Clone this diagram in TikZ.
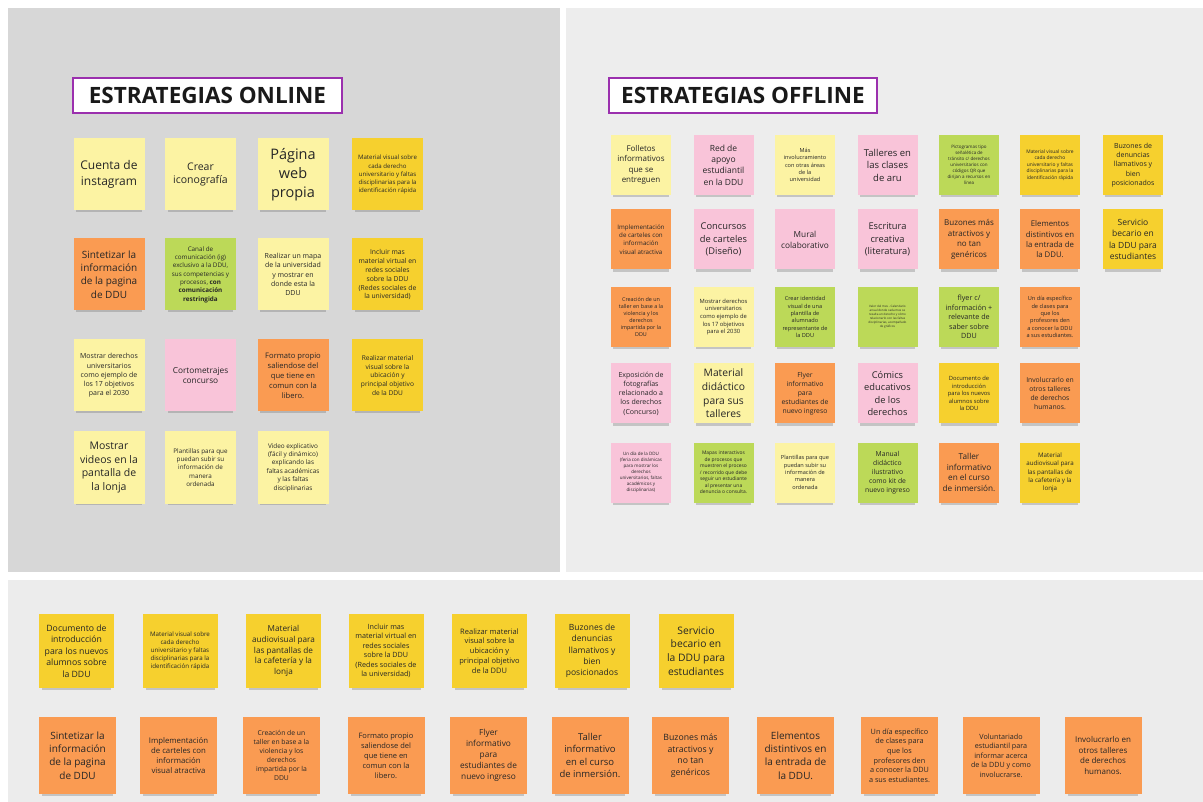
\documentclass[tikz,border=0pt]{standalone}
\usepackage{fontspec}
\setmainfont{Open Sans}
\usetikzlibrary{shadows}

\definecolor{paleyel}{HTML}{FCF3A3}
\definecolor{goldyel}{HTML}{F6D02E}
\definecolor{notorange}{HTML}{FA9B52}
\definecolor{notpink}{HTML}{F9C4D9}
\definecolor{notgreen}{HTML}{BCD958}
\definecolor{titleline}{HTML}{9B30AE}
\definecolor{onlinebg}{HTML}{D7D7D7}
\definecolor{offlinebg}{HTML}{EDEDED}
\definecolor{mixbg}{HTML}{ECECEC}

\newcommand\notefont[1]{\fontsize{#1}{\fpeval{1.32*#1}}\selectfont}

\tikzstyle{every node}=[inner sep=0pt,align=center,text=black!85]
\tikzstyle{note}=[drop shadow={shadow xshift=0pt,shadow yshift=-5pt,shadow scale=.92,opacity=.3,fill=black!60}]
\tikzstyle{titlebox}=[draw=titleline,line width=2pt,fill=white,minimum height=35pt,font=\bfseries\fontsize{22.5}{26}\selectfont,text=black!90]
\tikzset{
  fs/.style={font=\notefont{#1}},
  onsq/.style={note,minimum width=71pt,minimum height=72pt},
  offsq/.style={note,minimum width=60pt,minimum height=60pt},
  upsq/.style={note,minimum width=75pt,minimum height=74pt},
  lowsq/.style={note,minimum width=77pt,minimum height=77pt}
}

\begin{document}
\begin{tikzpicture}[x=1pt,y=-1pt]
  \useasboundingbox (0,0) rectangle (1203,802);
  \fill[onlinebg] (8,8) rectangle (560,572);
  \fill[offlinebg] (566,8) rectangle (1203,572);
  \fill[mixbg] (8,580) rectangle (1203,802);

  \node[titlebox,minimum width=269pt] (online) at (207.5,95.5) {ESTRATEGIAS ONLINE};
  \node[titlebox,minimum width=268pt] (offline) at (743,95.5) {ESTRATEGIAS OFFLINE};

  \node[onsq,fill=paleyel,fs=12] (on1) at (109,174.5) {Cuenta de\\instagram};
  \node[onsq,fill=paleyel,fs=10.5] (on2) at (200.5,174.5) {Crear\\iconografía};
  \node[onsq,fill=paleyel,fs=14.5] (on3) at (293,174.5) {Página\\web\\propia};
  \node[onsq,fill=goldyel,fs=6.1] (on4) at (387.5,174.5) {Material visual sobre\\cada derecho\\universitario y faltas\\disciplinarias para la\\identificación rápida};
  \node[onsq,fill=notorange,fs=10] (on5) at (109,274.5) {Sintetizar la\\información\\de la pagina\\de DDU};
  \node[onsq,fill=notgreen,fs=6.3] (on6) at (200.5,274.5) {Canal de\\comunicación (ig)\\exclusivo a la DDU,\\sus competencias y\\procesos, \textbf{con}\\\textbf{comunicación}\\\textbf{restringida}};
  \node[onsq,fill=paleyel,fs=7] (on7) at (293,274.5) {Realizar un mapa\\de la universidad\\y mostrar en\\donde esta la\\DDU};
  \node[onsq,fill=goldyel,fs=6.8] (on8) at (387.5,274.5) {Incluir mas\\material virtual en\\redes sociales\\sobre la DDU\\(Redes sociales de\\la universidad)};
  \node[onsq,fill=paleyel,fs=7] (on9) at (109,375.5) {Mostrar derechos\\universitarios\\como ejemplo de\\los 17 objetivos\\para el 2030};
  \node[onsq,fill=notpink,fs=8.3] (on10) at (200.5,375.5) {Cortometrajes\\concurso};
  \node[onsq,fill=notorange,fs=7.6] (on11) at (293,375.5) {Formato propio\\saliendose del\\que tiene en\\comun con la\\libero.};
  \node[onsq,fill=goldyel,fs=6.6] (on12) at (387.5,375.5) {Realizar material\\visual sobre la\\ubicación y\\principal objetivo\\de la DDU};
  \node[onsq,fill=paleyel,fs=10.5] (on13) at (109,467.5) {Mostrar\\videos en la\\pantalla de\\la lonja};
  \node[onsq,fill=paleyel,fs=6.3] (on14) at (200.5,467.5) {Plantillas para que\\puedan subir su\\información de\\manera\\ordenada};
  \node[onsq,fill=paleyel,fs=6.4] (on15) at (293,467.5) {Video explicativo\\(fácil y dinámico)\\explicando las\\faltas académicas\\y las faltas\\disciplinarias};

  \node[offsq,fill=paleyel,fs=8] (off1) at (641,165) {Folletos\\informativos\\que se\\entreguen};
  \node[offsq,fill=notpink,fs=8.5] (off2) at (723.5,165) {Red de\\apoyo\\estudiantil\\en la DDU};
  \node[offsq,fill=paleyel,fs=5.6] (off3) at (805,165) {Más\\involucramiento\\con otras áreas\\de la\\universidad};
  \node[offsq,fill=notpink,fs=9.5] (off4) at (887.5,165) {Talleres en\\las clases\\de aru};
  \node[offsq,fill=notgreen,fs=4.5] (off5) at (969,165) {Pictogramas tipo\\señalética de\\tránsito c/ derechos\\universitarios con\\códigos QR que\\dirijan a recursos en\\línea};
  \node[offsq,fill=goldyel,fs=4.9] (off6) at (1050,165) {Material visual sobre\\cada derecho\\universitario y faltas\\disciplinarias para la\\identificación rápida};
  \node[offsq,fill=goldyel,fs=7] (off7) at (1133,165) {Buzones de\\denuncias\\llamativos y\\bien\\posicionados};
  \node[offsq,fill=notorange,fs=6.2] (off8) at (641,239.5) {Implementación\\de carteles con\\información\\visual atractiva};
  \node[offsq,fill=notpink,fs=9.3] (off9) at (723.5,239.5) {Concursos\\de carteles\\(Diseño)};
  \node[offsq,fill=notpink,fs=8.3] (off10) at (805,239.5) {Mural\\colaborativo};
  \node[offsq,fill=notpink,fs=9.3] (off11) at (887.5,239.5) {Escritura\\creativa\\(literatura)};
  \node[offsq,fill=notorange,fs=8] (off12) at (969,239.5) {Buzones más\\atractivos y\\no tan\\genéricos};
  \node[offsq,fill=notorange,fs=7.8] (off13) at (1050,239.5) {Elementos\\distintivos en\\la entrada de\\la DDU.};
  \node[offsq,fill=goldyel,fs=8.5] (off14) at (1133,239.5) {Servicio\\becario en\\la DDU para\\estudiantes};
  \node[offsq,fill=notorange,fs=5.4] (off15) at (641,317) {Creación de un\\taller en base a la\\violencia y los\\derechos\\impartida por la\\DDU};
  \node[offsq,fill=paleyel,fs=5.8] (off16) at (723.5,317) {Mostrar derechos\\universitarios\\como ejemplo de\\los 17 objetivos\\para el 2030};
  \node[offsq,fill=notgreen,fs=5.6] (off17) at (805,317) {Crear identidad\\visual de una\\plantilla de\\alumnado\\representante de\\la DDU};
  \node[offsq,fill=notgreen,fs=3] (off18) at (887.5,317) {Valor del mes - Calendario\\anual donde cada mes se\\resalta un derecho y cómo\\relacionarlo con las faltas\\disciplinarias, acompañado\\de gráficos};
  \node[offsq,fill=notgreen,fs=7.2] (off19) at (969,317) {flyer c/\\información +\\relevante de\\saber sobre\\DDU};
  \node[offsq,fill=notorange,fs=5.6] (off20) at (1050,317) {Un día específico\\de clases para\\que los\\profesores den\\a conocer la DDU\\a sus estudiantes.};
  \node[offsq,fill=notpink,fs=7] (off21) at (641,393.5) {Exposición de\\fotografías\\relacionado a\\los derechos\\(Concurso)};
  \node[offsq,fill=paleyel,fs=10.3] (off22) at (723.5,393.5) {Material\\didáctico\\para sus\\talleres};
  \node[offsq,fill=notorange,fs=6.8] (off23) at (805,393.5) {Flyer\\informativo\\para\\estudiantes de\\nuevo ingreso};
  \node[offsq,fill=notpink,fs=9.3] (off24) at (887.5,393.5) {Cómics\\educativos\\de los\\derechos};
  \node[offsq,fill=goldyel,fs=5.8] (off25) at (969,393.5) {Documento de\\introducción\\para los nuevos\\alumnos sobre\\la DDU};
  \node[offsq,fill=notorange,fs=6.8] (off26) at (1050,393.5) {Involucrarlo en\\otros talleres\\de derechos\\humanos.};
  \node[offsq,fill=notpink,fs=4.5] (off27) at (641,472.5) {Un día de la DDU\\(feria con dinámicas\\para mostrar los\\derechos\\universitarios, faltas\\académicos y\\disciplinarias)};
  \node[offsq,fill=notgreen,fs=4.9] (off28) at (723.5,472.5) {Mapas interactivos\\de procesos que\\muestren el proceso\\/ recorrido que debe\\seguir un estudiante\\al presentar una\\denuncia o consulta.};
  \node[offsq,fill=paleyel,fs=5.6] (off29) at (805,472.5) {Plantillas para que\\puedan subir su\\información de\\manera\\ordenada};
  \node[offsq,fill=notgreen,fs=6.8] (off30) at (887.5,472.5) {Manual\\didáctico\\ilustrativo\\como kit de\\nuevo ingreso};
  \node[offsq,fill=notorange,fs=8.2] (off31) at (969,472.5) {Taller\\informativo\\en el curso\\de inmersión.};
  \node[offsq,fill=goldyel,fs=6.2] (off32) at (1050,472.5) {Material\\audiovisual para\\las pantallas de\\la cafetería y la\\lonja};

  \node[upsq,fill=goldyel,fs=8.7] (up1) at (76.5,651) {Documento de\\introducción\\para los nuevos\\alumnos sobre\\la DDU};
  \node[upsq,fill=goldyel,fs=6.2] (up2) at (180,651) {Material visual sobre\\cada derecho\\universitario y faltas\\disciplinarias para la\\identificación rápida};
  \node[upsq,fill=goldyel,fs=8.2] (up3) at (283.5,651) {Material\\audiovisual para\\las pantallas de\\la cafetería y la\\lonja};
  \node[upsq,fill=goldyel,fs=7.2] (up4) at (386,651) {Incluir mas\\material virtual en\\redes sociales\\sobre la DDU\\(Redes sociales de\\la universidad)};
  \node[upsq,fill=goldyel,fs=7.5] (up5) at (489.5,651) {Realizar material\\visual sobre la\\ubicación y\\principal objetivo\\de la DDU};
  \node[upsq,fill=goldyel,fs=8.5] (up6) at (592,651) {Buzones de\\denuncias\\llamativos y\\bien\\posicionados};
  \node[upsq,fill=goldyel,fs=10.3] (up7) at (696,651) {Servicio\\becario en\\la DDU para\\estudiantes};

  \node[lowsq,fill=notorange,fs=10] (low1) at (77.5,755.5) {Sintetizar la\\información\\de la pagina\\de DDU};
  \node[lowsq,fill=notorange,fs=7.8] (low2) at (178.5,755.5) {Implementación\\de carteles con\\información\\visual atractiva};
  \node[lowsq,fill=notorange,fs=6.8] (low3) at (281.5,755.5) {Creación de un\\taller en base a la\\violencia y los\\derechos\\impartida por la\\DDU};
  \node[lowsq,fill=notorange,fs=7.5] (low4) at (386,755.5) {Formato propio\\saliendose del\\que tiene en\\comun con la\\libero.};
  \node[lowsq,fill=notorange,fs=8.3] (low5) at (488.5,755.5) {Flyer\\informativo\\para\\estudiantes de\\nuevo ingreso};
  \node[lowsq,fill=notorange,fs=9.5] (low6) at (590,755.5) {Taller\\informativo\\en el curso\\de inmersión.};
  \node[lowsq,fill=notorange,fs=8.7] (low7) at (690.5,755.5) {Buzones más\\atractivos y\\no tan\\genéricos};
  \node[lowsq,fill=notorange,fs=10] (low8) at (795.5,755.5) {Elementos\\distintivos en\\la entrada de\\la DDU.};
  \node[lowsq,fill=notorange,fs=7.3] (low9) at (899.5,755.5) {Un día específico\\de clases para\\que los\\profesores den\\a conocer la DDU\\a sus estudiantes.};
  \node[lowsq,fill=notorange,fs=7.2] (low10) at (1001,755.5) {Voluntariado\\estudiantil para\\informar acerca\\de la DDU y como\\involucrarse.};
  \node[lowsq,fill=notorange,fs=8] (low11) at (1103,755.5) {Involucrarlo en\\otros talleres\\de derechos\\humanos.};
\end{tikzpicture}
\end{document}
